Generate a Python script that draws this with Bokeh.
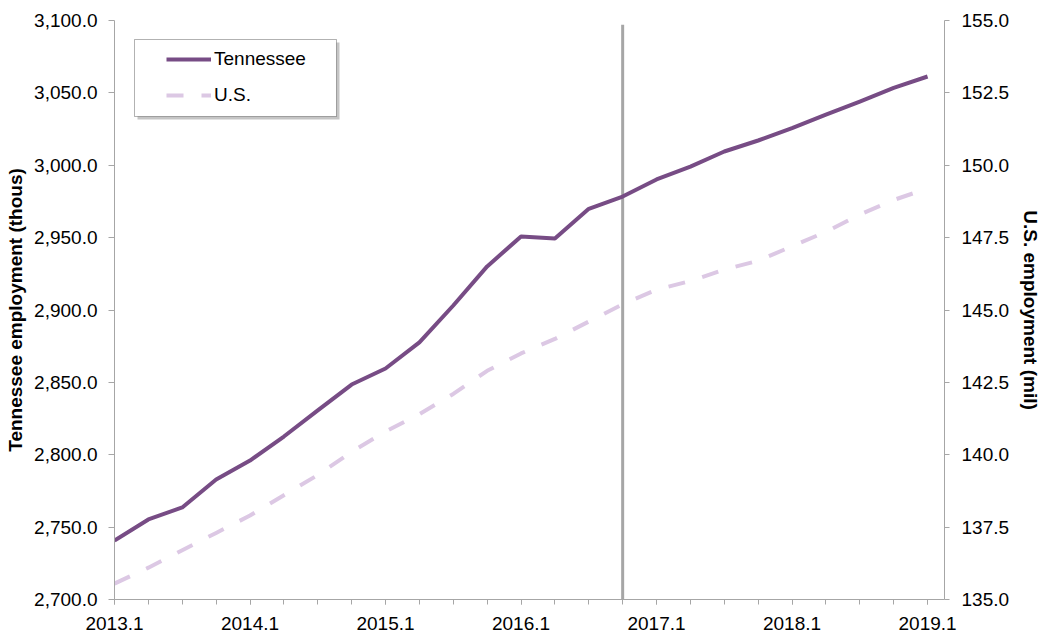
from bokeh.plotting import figure
from bokeh.models import (Range1d, LinearAxis, FixedTicker, NumeralTickFormatter,
                          Legend, LegendItem, ColumnDataSource, BoxAnnotation)
from bokeh.embed import file_html
from bokeh.resources import INLINE

# ---------------- data ----------------
quarters = ["2013.1", "2013.2", "2013.3", "2013.4",
            "2014.1", "2014.2", "2014.3", "2014.4",
            "2015.1", "2015.2", "2015.3", "2015.4",
            "2016.1", "2016.2", "2016.3", "2016.4",
            "2017.1", "2017.2", "2017.3", "2017.4",
            "2018.1", "2018.2", "2018.3", "2018.4",
            "2019.1"]
tennessee = [2740.8, 2755.3, 2763.6, 2782.9, 2796.0, 2812.6, 2830.6, 2848.5,
             2859.6, 2877.6, 2903.1, 2930.1, 2950.8, 2949.4, 2969.9, 2978.4,
             2990.2, 2999.1, 3009.5, 3017.1, 3025.6, 3035.0, 3044.0, 3053.4,
             3061.3]
us = [135.55, 136.1, 136.7, 137.3, 137.9, 138.6, 139.3, 140.1,
      140.8, 141.4, 142.1, 142.9, 143.5, 144.0, 144.6, 145.2,
      145.7, 146.0, 146.4, 146.7, 147.2, 147.7, 148.3, 148.8,
      149.2]
left_ticks = [2700, 2750, 2800, 2850, 2900, 2950, 3000, 3050, 3100]
right_ticks = [135.0, 137.5, 140.0, 142.5, 145.0, 147.5, 150.0, 152.5, 155.0]
x_label_quarters = ["2013.1", "2014.1", "2015.1", "2016.1", "2017.1", "2018.1", "2019.1"]
marker_quarter = "2016.4"
marker_top = 3097

idx = list(range(len(quarters)))
src = ColumnDataSource(dict(x=idx, tn=tennessee, us=us))

FONT = "Liberation Sans"

p = figure(width=1044, height=638, output_backend="svg",
           toolbar_location=None, x_range=Range1d(0, len(quarters) - 0.5),
           y_range=Range1d(2700, 3100),
           min_border_left=114, min_border_right=100, min_border_top=20,
           min_border_bottom=39, background_fill_color="white",
           border_fill_color="white")
p.outline_line_color = None
p.xgrid.visible = False
p.ygrid.visible = False
p.extra_y_ranges = {"us": Range1d(135, 155)}

AXIS_COLOR = "#A6A6A6"

# x axis
xa = p.xaxis[0]
major = [quarters.index(q) for q in x_label_quarters]
xa.ticker = FixedTicker(ticks=major, minor_ticks=idx)
xa.major_label_overrides = {quarters.index(q): q for q in x_label_quarters}
xa.axis_line_color = AXIS_COLOR
xa.major_tick_line_color = AXIS_COLOR
xa.minor_tick_line_color = AXIS_COLOR
xa.major_tick_in = 0
xa.major_tick_out = 5
xa.minor_tick_in = 0
xa.minor_tick_out = 5
xa.major_label_standoff = 12
xa.major_label_text_font = FONT
xa.major_label_text_font_size = "19px"
xa.major_label_text_color = "black"

# left axis
ya = p.yaxis[0]
ya.ticker = FixedTicker(ticks=left_ticks)
ya.formatter = NumeralTickFormatter(format="0,0.0")
ya.axis_line_color = AXIS_COLOR
ya.major_tick_line_color = AXIS_COLOR
ya.minor_tick_line_color = None
ya.major_tick_in = 0
ya.major_tick_out = 6
ya.major_label_standoff = 11
ya.major_label_text_font = FONT
ya.major_label_text_font_size = "19px"
ya.major_label_text_color = "black"
ya.axis_label = "Tennessee employment (thous)"
ya.axis_label_text_font = FONT
ya.axis_label_text_font_style = "bold"
ya.axis_label_text_font_size = "19px"
ya.axis_label_text_color = "black"
ya.axis_label_standoff = 5

# right axis
ra = LinearAxis(y_range_name="us", ticker=FixedTicker(ticks=right_ticks),
                formatter=NumeralTickFormatter(format="0.0"))
ra.axis_line_color = AXIS_COLOR
ra.major_tick_line_color = AXIS_COLOR
ra.minor_tick_line_color = None
ra.major_tick_in = 0
ra.major_tick_out = 5
ra.major_label_standoff = 12
ra.major_label_text_font = FONT
ra.major_label_text_font_size = "19px"
ra.major_label_text_color = "black"
ra.axis_label = "U.S. employment (mil)"
ra.axis_label_text_font = FONT
ra.axis_label_text_font_style = "bold"
ra.axis_label_text_font_size = "19px"
ra.axis_label_text_color = "black"
ra.axis_label_standoff = 8
p.add_layout(ra, "right")

# vertical marker line
mx = quarters.index(marker_quarter)
p.segment(x0=[mx], y0=[p.y_range.start], x1=[mx], y1=[marker_top],
          line_color="#A6A6A6", line_width=3)

# series
us_r = p.line("x", "us", source=src, y_range_name="us", line_color="#DCC8E4",
              line_width=4, line_dash="17 18")
tn_r = p.line("x", "tn", source=src, line_color="#774C85", line_width=4,
              line_join="round")

# legend box with shadow (screen units: x from frame left, y from frame bottom)
shadow = BoxAnnotation(left=23, right=225, top=557, bottom=480,
                       left_units="screen", right_units="screen",
                       top_units="screen", bottom_units="screen",
                       fill_color="#7f7f7f", fill_alpha=0.45, line_color=None,
                       level="annotation")
box = BoxAnnotation(left=20, right=222, top=560, bottom=483,
                    left_units="screen", right_units="screen",
                    top_units="screen", bottom_units="screen",
                    fill_color="white", fill_alpha=1, line_color="black",
                    line_width=1, level="annotation")
p.add_layout(shadow)
p.add_layout(box)

legend = Legend(items=[LegendItem(label="Tennessee", renderers=[tn_r]),
                       LegendItem(label="U.S.", renderers=[us_r])],
                location=(52, 493), padding=11, spacing=14, glyph_width=45,
                glyph_height=22, label_height=22,
                label_standoff=3, label_text_font=FONT,
                label_text_font_size="19px", label_text_color="black",
                border_line_color=None, background_fill_alpha=0)
p.add_layout(legend, "center")

open("out.html", "w").write(file_html(p, INLINE))
